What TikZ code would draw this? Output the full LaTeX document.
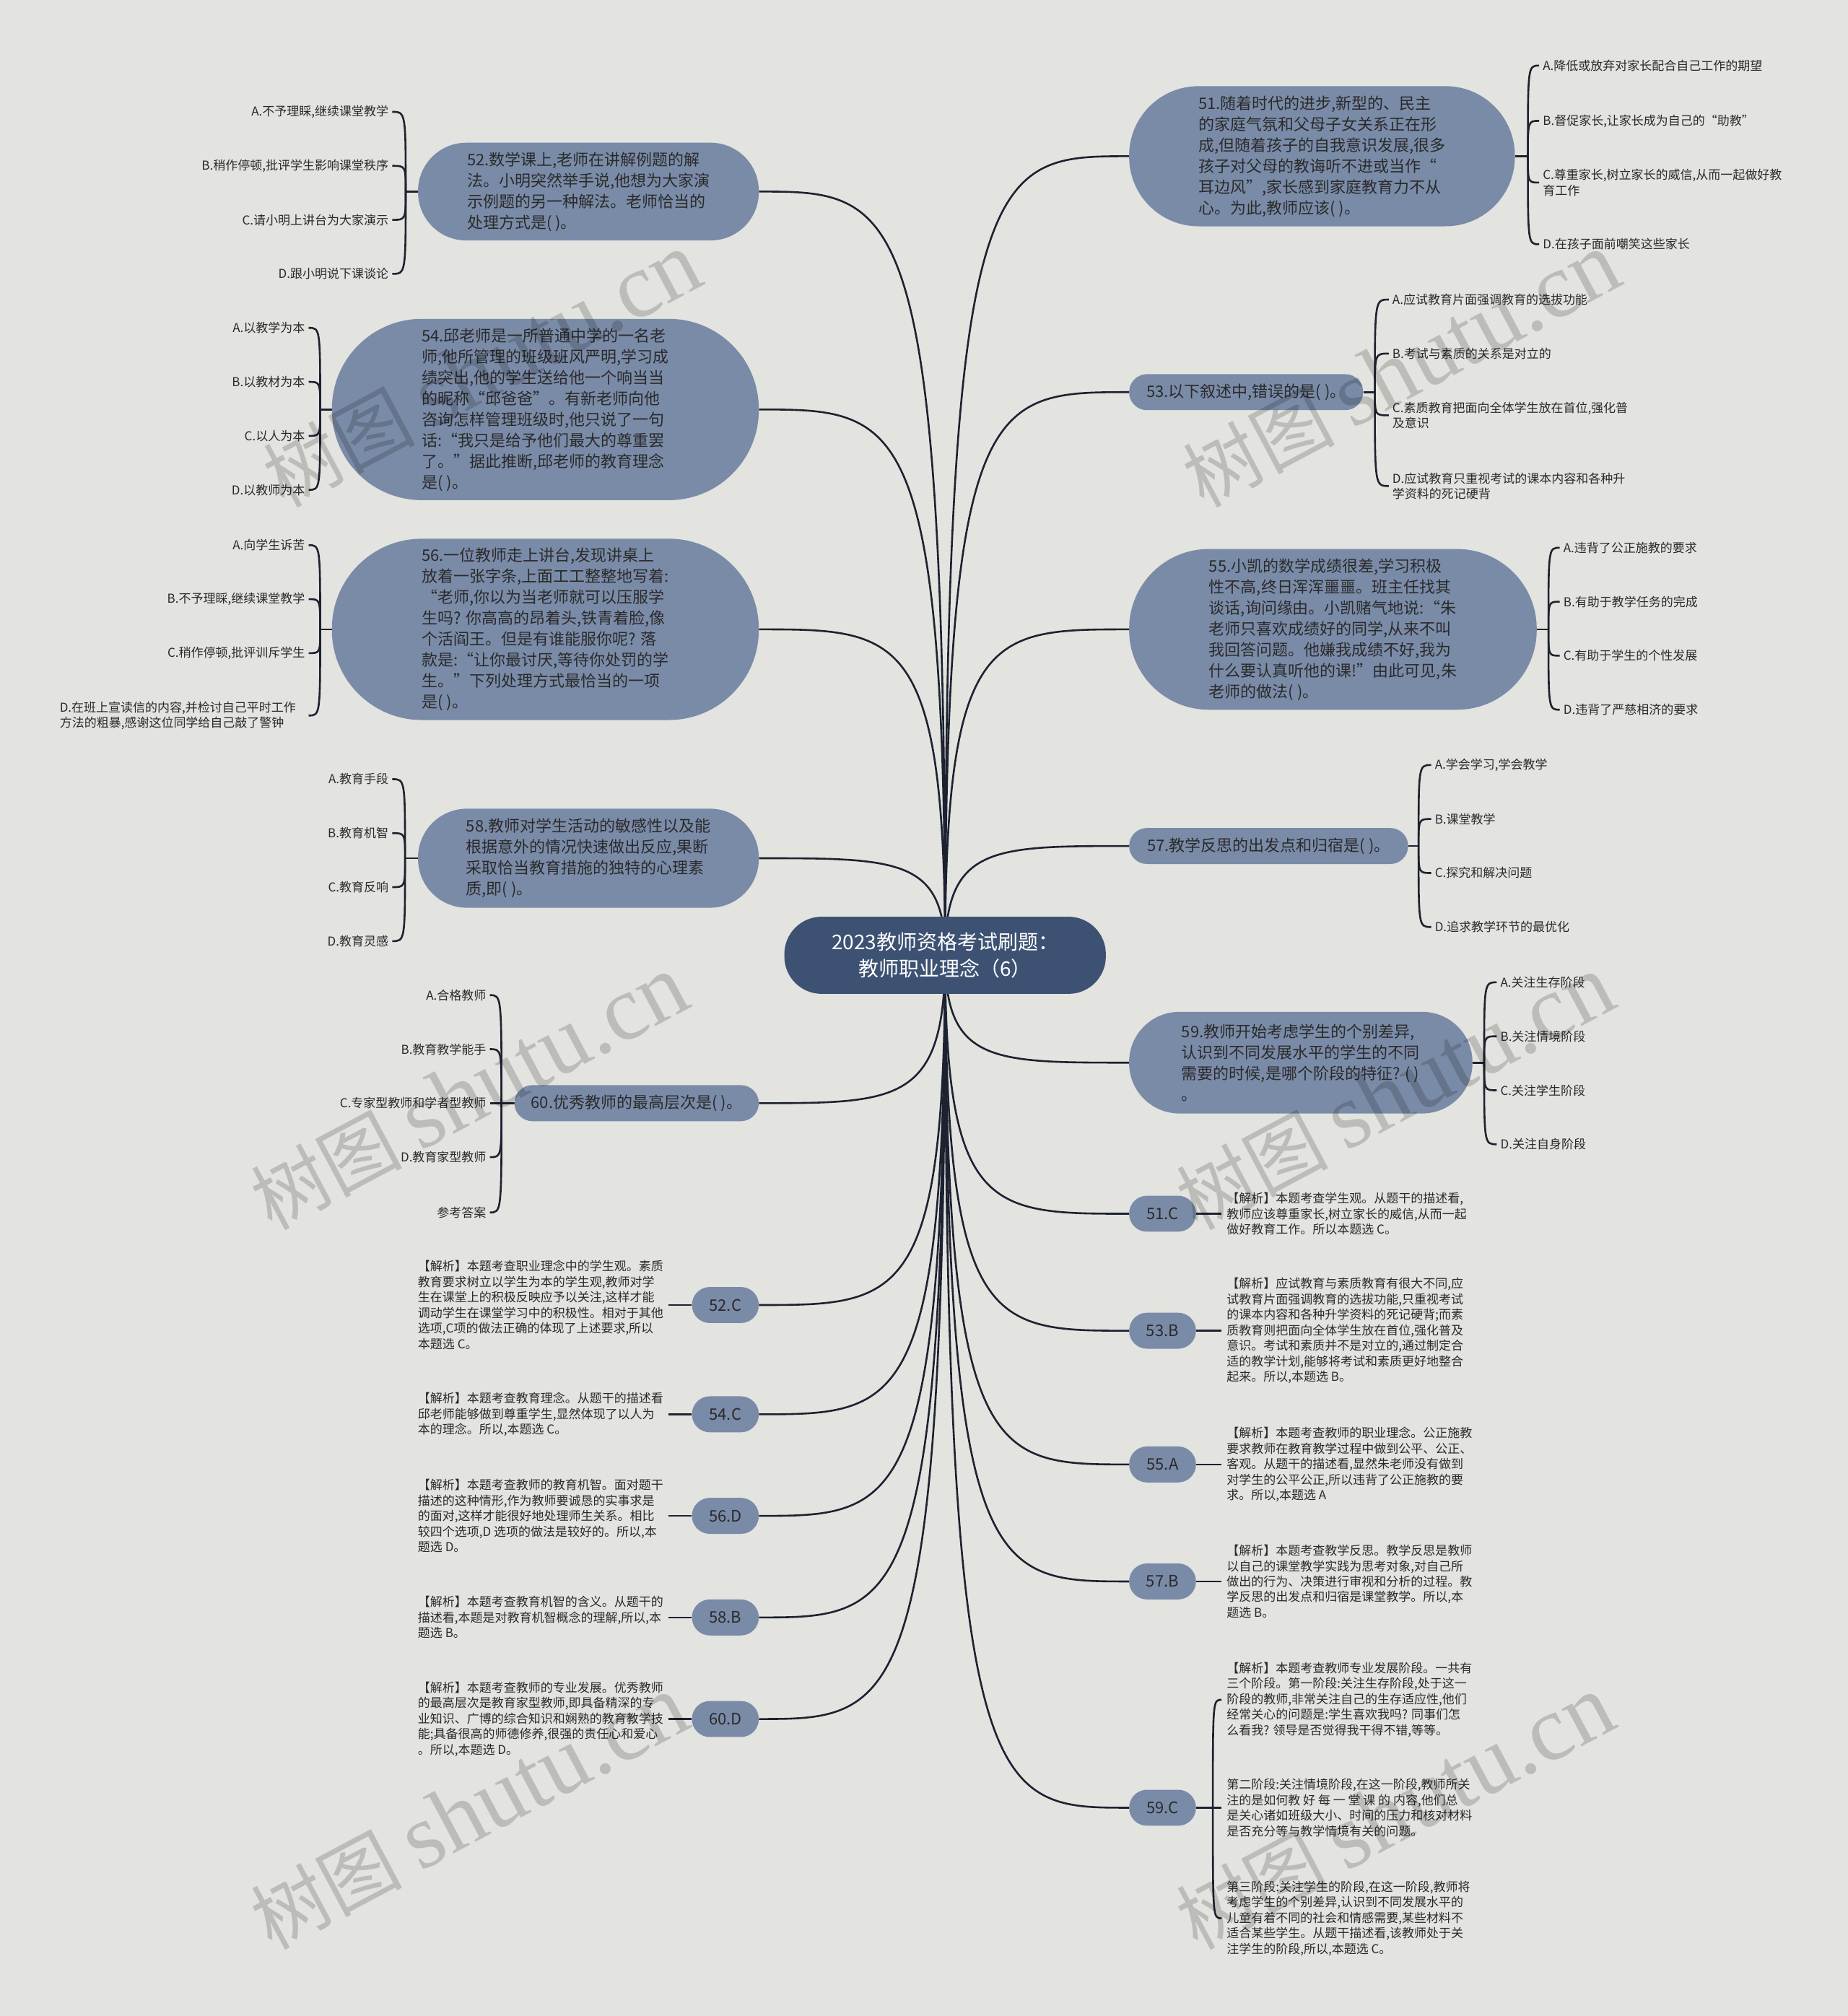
\documentclass[tikz,border=0pt]{standalone}
\usepackage{fontspec}
\setmainfont{Noto Sans CJK SC}
\newfontfamily\wmlatin{Liberation Serif}
\usetikzlibrary{calc}
\pgfdeclarelayer{back}
\pgfdeclarelayer{lines}
\pgfsetlayers{back,lines,main}
\definecolor{bgc}{HTML}{E3E3DF}
\definecolor{nodec}{HTML}{7A8BA8}
\definecolor{rootc}{HTML}{3D5273}
\definecolor{linec}{HTML}{1C2230}
\definecolor{txtc}{HTML}{2A2A2A}
\newcommand{\SZ}[1]{#1*1.7815pt}
\newcommand{\fontQ}{\fontsize{22}{29}\selectfont}
\newcommand{\fontO}{\fontsize{17}{21.5}\selectfont}
\newcommand{\fontR}{\fontsize{28}{37.4}\selectfont}
\newcommand{\fontW}{\fontsize{105}{105}\selectfont}
\newcommand{\fontWL}{\fontsize{128}{128}\selectfont}
\newcommand{\mlink}[1]{\draw[link] (root.center) .. controls (root.center |- #1) and ($(root.center |- #1)!0.25!(#1)$) .. (#1);}
\newcommand{\blink}[2]{\draw[link] (#1) .. controls (#1 |- #2) and (#1 |- #2) .. (#2);}
\begin{document}
\begin{tikzpicture}[x=1.7815pt, y=-1.7815pt,
  qn/.style={fill=nodec, text=txtc, align=left, inner sep=0pt, font=\fontQ, anchor=west},
  optr/.style={text=txtc, font=\fontO, align=left, inner xsep=5pt, inner ysep=1pt, anchor=west},
  optl/.style={text=txtc, font=\fontO, align=right, inner xsep=5pt, inner ysep=1pt, anchor=east},
  expl/.style={text=txtc, font=\fontO, align=left, inner xsep=7pt, inner ysep=1pt, anchor=west},
  link/.style={draw=linec, line width=2.6pt},
  wm/.style={rotate=28, text=black, text opacity=0.17, font=\fontW, inner sep=0pt}]
\begin{pgfonlayer}{back}
\fill[bgc] (0,0) rectangle (1437,1568);
\end{pgfonlayer}
\useasboundingbox (0,0) rectangle (1437,1568);

% root
\node[fill=rootc, text=white, font=\fontR, align=center, minimum width=\SZ{250}, minimum height=\SZ{60}, rounded corners=\SZ{29}, inner sep=0pt] (root) at (735,743) {2023教师资格考试刷题：\\教师职业理念（6）};

% right questions
\node[qn, minimum width=\SZ{300}, minimum height=\SZ{109}, rounded corners=\SZ{54}] (q51) at (878,121.5) {51.随着时代的进步,新型的、民主\\的家庭气氛和父母子女关系正在形\\成,但随着孩子的自我意识发展,很多\\孩子对父母的教诲听不进或当作“\\耳边风”,家长感到家庭教育力不从\\心。为此,教师应该( )。};
\node[qn, minimum width=\SZ{182}, minimum height=\SZ{28}, rounded corners=\SZ{13.9}] (q53) at (878,305) {53.以下叙述中,错误的是( )。};
\node[qn, minimum width=\SZ{317}, minimum height=\SZ{125}, rounded corners=\SZ{62}] (q55) at (878,489.5) {55.小凯的数学成绩很差,学习积极\\性不高,终日浑浑噩噩。班主任找其\\谈话,询问缘由。小凯赌气地说:“朱\\老师只喜欢成绩好的同学,从来不叫\\我回答问题。他嫌我成绩不好,我为\\什么要认真听他的课!”由此可见,朱\\老师的做法( )。};
\node[qn, minimum width=\SZ{217}, minimum height=\SZ{28}, rounded corners=\SZ{13.9}] (q57) at (878,658) {57.教学反思的出发点和归宿是( )。};
\node[qn, minimum width=\SZ{267}, minimum height=\SZ{79}, rounded corners=\SZ{39}] (q59) at (878,826.5) {59.教师开始考虑学生的个别差异,\\认识到不同发展水平的学生的不同\\需要的时候,是哪个阶段的特征? ( )\\。};

% left questions
\node[qn, minimum width=\SZ{265}, minimum height=\SZ{76}, rounded corners=\SZ{37.5}] (q52) at (325,149) {52.数学课上,老师在讲解例题的解\\法。小明突然举手说,他想为大家演\\示例题的另一种解法。老师恰当的\\处理方式是( )。};
\node[qn, minimum width=\SZ{332}, minimum height=\SZ{141}, rounded corners=\SZ{70}] (q54) at (258,318.5) {54.邱老师是一所普通中学的一名老\\师,他所管理的班级班风严明,学习成\\绩突出,他的学生送给他一个响当当\\的昵称“邱爸爸”。有新老师向他\\咨询怎样管理班级时,他只说了一句\\话:“我只是给予他们最大的尊重罢\\了。”据此推断,邱老师的教育理念\\是( )。};
\node[qn, minimum width=\SZ{332}, minimum height=\SZ{141}, rounded corners=\SZ{70}] (q56) at (258,489.5) {56.一位教师走上讲台,发现讲桌上\\放着一张字条,上面工工整整地写着:\\“老师,你以为当老师就可以压服学\\生吗? 你高高的昂着头,铁青着脸,像\\个活阎王。但是有谁能服你呢? 落\\款是:“让你最讨厌,等待你处罚的学\\生。”下列处理方式最恰当的一项\\是( )。};
\node[qn, minimum width=\SZ{265}, minimum height=\SZ{77}, rounded corners=\SZ{38}] (q58) at (325,667.5) {58.教师对学生活动的敏感性以及能\\根据意外的情况快速做出反应,果断\\采取恰当教育措施的独特的心理素\\质,即( )。};
\node[qn, minimum width=\SZ{190}, minimum height=\SZ{28}, rounded corners=\SZ{13.9}] (q60) at (400,858) {60.优秀教师的最高层次是( )。};

% answer pills right
\node[qn, align=center, minimum width=\SZ{52}, minimum height=\SZ{28}, rounded corners=\SZ{13.9}] (a51) at (878,944) {51.C};
\node[qn, align=center, minimum width=\SZ{52}, minimum height=\SZ{28}, rounded corners=\SZ{13.9}] (a53) at (878,1035) {53.B};
\node[qn, align=center, minimum width=\SZ{52}, minimum height=\SZ{28}, rounded corners=\SZ{13.9}] (a55) at (878,1139) {55.A};
\node[qn, align=center, minimum width=\SZ{52}, minimum height=\SZ{28}, rounded corners=\SZ{13.9}] (a57) at (878,1230) {57.B};
\node[qn, align=center, minimum width=\SZ{52}, minimum height=\SZ{28}, rounded corners=\SZ{13.9}] (a59) at (878,1406) {59.C};
% answer pills left
\node[qn, align=center, minimum width=\SZ{52}, minimum height=\SZ{28}, rounded corners=\SZ{13.9}] (a52) at (538,1015) {52.C};
\node[qn, align=center, minimum width=\SZ{52}, minimum height=\SZ{28}, rounded corners=\SZ{13.9}] (a54) at (538,1100) {54.C};
\node[qn, align=center, minimum width=\SZ{52}, minimum height=\SZ{28}, rounded corners=\SZ{13.9}] (a56) at (538,1179) {56.D};
\node[qn, align=center, minimum width=\SZ{52}, minimum height=\SZ{28}, rounded corners=\SZ{13.9}] (a58) at (538,1258) {58.B};
\node[qn, align=center, minimum width=\SZ{52}, minimum height=\SZ{28}, rounded corners=\SZ{13.9}] (a60) at (538,1337) {60.D};

% options right
\node[optr] (o51a) at (1197,51) {A.降低或放弃对家长配合自己工作的期望};
\node[optr] (o51b) at (1197,94) {B.督促家长,让家长成为自己的“助教”};
\node[optr] (o51c) at (1197,142) {C.尊重家长,树立家长的威信,从而一起做好教\\育工作};
\node[optr] (o51d) at (1197,190) {D.在孩子面前嘲笑这些家长};
\node[optr] (o53a) at (1080,233) {A.应试教育片面强调教育的选拔功能};
\node[optr] (o53b) at (1080,275) {B.考试与素质的关系是对立的};
\node[optr] (o53c) at (1080,323) {C.素质教育把面向全体学生放在首位,强化普\\及意识};
\node[optr] (o53d) at (1080,378) {D.应试教育只重视考试的课本内容和各种升\\学资料的死记硬背};
\node[optr] (o55a) at (1213,426) {A.违背了公正施教的要求};
\node[optr] (o55b) at (1213,468) {B.有助于教学任务的完成};
\node[optr] (o55c) at (1213,510) {C.有助于学生的个性发展};
\node[optr] (o55d) at (1213,552) {D.违背了严慈相济的要求};
\node[optr] (o57a) at (1113,595) {A.学会学习,学会教学};
\node[optr] (o57b) at (1113,637) {B.课堂教学};
\node[optr] (o57c) at (1113,679) {C.探究和解决问题};
\node[optr] (o57d) at (1113,721) {D.追求教学环节的最优化};
\node[optr] (o59a) at (1164,764) {A.关注生存阶段};
\node[optr] (o59b) at (1164,806) {B.关注情境阶段};
\node[optr] (o59c) at (1164,848) {C.关注学生阶段};
\node[optr] (o59d) at (1164,890) {D.关注自身阶段};

% options left
\node[optl] (o52a) at (305,87) {A.不予理睬,继续课堂教学};
\node[optl] (o52b) at (305,129) {B.稍作停顿,批评学生影响课堂秩序};
\node[optl] (o52c) at (305,171) {C.请小明上讲台为大家演示};
\node[optl] (o52d) at (305,213) {D.跟小明说下课谈论};
\node[optl] (o54a) at (240,255) {A.以教学为本};
\node[optl] (o54b) at (240,297) {B.以教材为本};
\node[optl] (o54c) at (240,339) {C.以人为本};
\node[optl] (o54d) at (240,381) {D.以教师为本};
\node[optl] (o56a) at (240,424) {A.向学生诉苦};
\node[optl] (o56b) at (240,466) {B.不予理睬,继续课堂教学};
\node[optl] (o56c) at (240,508) {C.稍作停顿,批评训斥学生};
\node[optl, align=left, text width=\SZ{190.6}] (o56d) at (240,556.5) {D.在班上宣读信的内容,并检讨自己平时工作\\方法的粗暴,感谢这位同学给自己敲了警钟};
\node[optl] (o58a) at (305,606) {A.教育手段};
\node[optl] (o58b) at (305,648) {B.教育机智};
\node[optl] (o58c) at (305,690) {C.教育反响};
\node[optl] (o58d) at (305,732) {D.教育灵感};
\node[optl] (o60a) at (381,774) {A.合格教师};
\node[optl] (o60b) at (381,816) {B.教育教学能手};
\node[optl] (o60c) at (381,858) {C.专家型教师和学者型教师};
\node[optl] (o60d) at (381,900) {D.教育家型教师};
\node[optl] (o60e) at (381,943) {参考答案};

% explanations right
\node[expl] (e51) at (950,944) {【解析】本题考查学生观。从题干的描述看,\\教师应该尊重家长,树立家长的威信,从而一起\\做好教育工作。所以本题选 C。};
\node[expl] (e53) at (950,1035) {【解析】应试教育与素质教育有很大不同,应\\试教育片面强调教育的选拔功能,只重视考试\\的课本内容和各种升学资料的死记硬背;而素\\质教育则把面向全体学生放在首位,强化普及\\意识。考试和素质并不是对立的,通过制定合\\适的教学计划,能够将考试和素质更好地整合\\起来。所以,本题选 B。};
\node[expl] (e55) at (950,1139) {【解析】本题考查教师的职业理念。公正施教\\要求教师在教育教学过程中做到公平、公正、\\客观。从题干的描述看,显然朱老师没有做到\\对学生的公平公正,所以违背了公正施教的要\\求。所以,本题选 A};
\node[expl] (e57) at (950,1230) {【解析】本题考查教学反思。教学反思是教师\\以自己的课堂教学实践为思考对象,对自己所\\做出的行为、决策进行审视和分析的过程。教\\学反思的出发点和归宿是课堂教学。所以,本\\题选 B。};
\node[expl] (e59a) at (950,1322) {【解析】本题考查教师专业发展阶段。一共有\\三个阶段。第一阶段:关注生存阶段,处于这一\\阶段的教师,非常关注自己的生存适应性,他们\\经常关心的问题是:学生喜欢我吗? 同事们怎\\么看我? 领导是否觉得我干得不错,等等。};
\node[expl] (e59b) at (950,1406) {第二阶段:关注情境阶段,在这一阶段,教师所关\\注的是如何教 好 每 一 堂 课 的 内容,他们总\\是关心诸如班级大小、时间的压力和核对材料\\是否充分等与教学情境有关的问题。};
\node[expl] (e59c) at (950,1492) {第三阶段:关注学生的阶段,在这一阶段,教师将\\考虑学生的个别差异,认识到不同发展水平的\\儿童有着不同的社会和情感需要,某些材料不\\适合某些学生。从题干描述看,该教师处于关\\注学生的阶段,所以,本题选 C。};

% explanations left
\node[expl] (e52) at (321,1015) {【解析】本题考查职业理念中的学生观。素质\\教育要求树立以学生为本的学生观,教师对学\\生在课堂上的积极反映应予以关注,这样才能\\调动学生在课堂学习中的积极性。相对于其他\\选项,C项的做法正确的体现了上述要求,所以\\本题选 C。};
\node[expl] (e54) at (321,1100) {【解析】本题考查教育理念。从题干的描述看\\邱老师能够做到尊重学生,显然体现了以人为\\本的理念。所以,本题选 C。};
\node[expl] (e56) at (321,1179) {【解析】本题考查教师的教育机智。面对题干\\描述的这种情形,作为教师要诚恳的实事求是\\的面对,这样才能很好地处理师生关系。相比\\较四个选项,D 选项的做法是较好的。所以,本\\题选 D。};
\node[expl] (e58) at (321,1258) {【解析】本题考查教育机智的含义。从题干的\\描述看,本题是对教育机智概念的理解,所以,本\\题选 B。};
\node[expl] (e60) at (321,1337) {【解析】本题考查教师的专业发展。优秀教师\\的最高层次是教育家型教师,即具备精深的专\\业知识、广博的综合知识和娴熟的教育教学技\\能;具备很高的师德修养,很强的责任心和爱心\\。所以,本题选 D。};

% junctions
\coordinate (j51) at ($(q51.east)+(10,0)$);
\coordinate (j53) at ($(q53.east)+(9,0)$);
\coordinate (j55) at ($(q55.east)+(9,0)$);
\coordinate (j57) at ($(q57.east)+(8,0)$);
\coordinate (j59) at ($(q59.east)+(9,0)$);
\coordinate (j52) at ($(q52.west)+(-9.5,0)$);
\coordinate (j54) at ($(q54.west)+(-9,0)$);
\coordinate (j56) at ($(q56.west)+(-9,0)$);
\coordinate (j58) at ($(q58.west)+(-10,0)$);
\coordinate (j60) at ($(q60.west)+(-10,0)$);
\coordinate (ja59) at ($(a59.east)+(13,0)$);

\begin{pgfonlayer}{lines}
% main links
\mlink{q51.west}\mlink{q53.west}\mlink{q55.west}\mlink{q57.west}\mlink{q59.west}
\mlink{a51.west}\mlink{a53.west}\mlink{a55.west}\mlink{a57.west}\mlink{a59.west}
\mlink{q52.east}\mlink{q54.east}\mlink{q56.east}\mlink{q58.east}\mlink{q60.east}
\mlink{a52.east}\mlink{a54.east}\mlink{a56.east}\mlink{a58.east}\mlink{a60.east}
% option braces
\draw[link] (q51.east) -- (j51);
\blink{j51}{o51a.west}\blink{j51}{o51b.west}\blink{j51}{o51c.west}\blink{j51}{o51d.west}
\draw[link] (q53.east) -- (j53);
\blink{j53}{o53a.west}\blink{j53}{o53b.west}\blink{j53}{o53c.west}\blink{j53}{o53d.west}
\draw[link] (q55.east) -- (j55);
\blink{j55}{o55a.west}\blink{j55}{o55b.west}\blink{j55}{o55c.west}\blink{j55}{o55d.west}
\draw[link] (q57.east) -- (j57);
\blink{j57}{o57a.west}\blink{j57}{o57b.west}\blink{j57}{o57c.west}\blink{j57}{o57d.west}
\draw[link] (q59.east) -- (j59);
\blink{j59}{o59a.west}\blink{j59}{o59b.west}\blink{j59}{o59c.west}\blink{j59}{o59d.west}
\draw[link] (q52.west) -- (j52);
\blink{j52}{o52a.east}\blink{j52}{o52b.east}\blink{j52}{o52c.east}\blink{j52}{o52d.east}
\draw[link] (q54.west) -- (j54);
\blink{j54}{o54a.east}\blink{j54}{o54b.east}\blink{j54}{o54c.east}\blink{j54}{o54d.east}
\draw[link] (q56.west) -- (j56);
\blink{j56}{o56a.east}\blink{j56}{o56b.east}\blink{j56}{o56c.east}\blink{j56}{o56d.east}
\draw[link] (q58.west) -- (j58);
\blink{j58}{o58a.east}\blink{j58}{o58b.east}\blink{j58}{o58c.east}\blink{j58}{o58d.east}
\draw[link] (q60.west) -- (j60);
\blink{j60}{o60a.east}\blink{j60}{o60b.east}\draw[link] (j60) -- (o60c.east);\blink{j60}{o60d.east}\blink{j60}{o60e.east}
% answer stubs
\draw[link] (a51.east) -- (e51.west);
\draw[link] (a53.east) -- (e53.west);
\draw[link] (a55.east) -- (e55.west);
\draw[link] (a57.east) -- (e57.west);
\draw[link] (a59.east) -- (ja59);
\blink{ja59}{e59a.west}\draw[link] (ja59) -- (e59b.west);\blink{ja59}{e59c.west}
\draw[link] (e52.east) -- (a52.west);
\draw[link] (e54.east) -- (a54.west);
\draw[link] (e56.east) -- (a56.west);
\draw[link] (e58.east) -- (a58.west);
\draw[link] (e60.east) -- (a60.west);
\end{pgfonlayer}

% watermarks
\node[wm] (w1) at (375,288) {树图 {\wmlatin\fontWL shutu.cn}};
\node[wm] (w2) at (1090,288) {树图 {\wmlatin\fontWL shutu.cn}};
\node[wm] (w3) at (365,850) {树图 {\wmlatin\fontWL shutu.cn}};
\node[wm] (w4) at (1085,850) {树图 {\wmlatin\fontWL shutu.cn}};
\node[wm] (w5) at (365,1410) {树图 {\wmlatin\fontWL shutu.cn}};
\node[wm] (w6) at (1085,1410) {树图 {\wmlatin\fontWL shutu.cn}};
\end{tikzpicture}
\end{document}
